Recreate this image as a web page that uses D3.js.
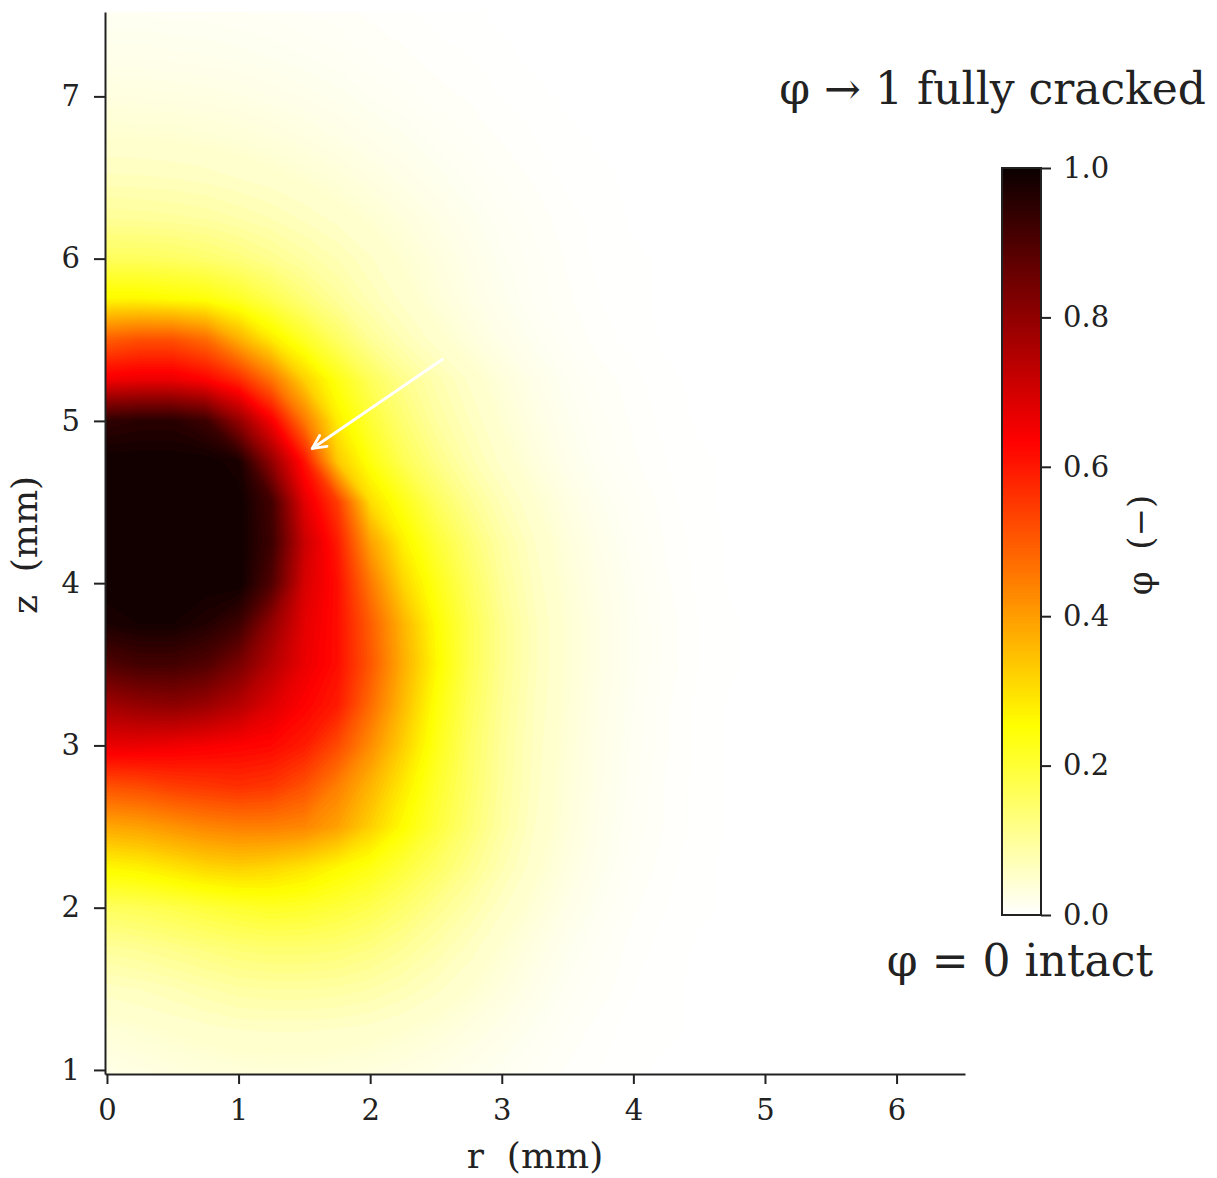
<!DOCTYPE html>
<html>
<head>
<meta charset="utf-8">
<script src="https://cdn.jsdelivr.net/npm/d3@7"></script>
<style>
  body { margin: 0; background: #fff; }
  text { font-family: "DejaVu Serif", serif; fill: #222; white-space: pre; }
</style>
</head>
<body>
<div id="chart"></div>
<script>
// grid positions (mm) of the phi samples
var rGrid = [0, 0.25, 0.5, 0.75, 1, 1.25, 1.5, 1.75, 2, 2.25, 2.5, 2.75, 3, 3.25, 3.5, 3.75, 4, 4.25, 4.5, 4.75, 5];
var zGrid = [1, 1.25, 1.5, 1.75, 2, 2.25, 2.5, 2.75, 3, 3.25, 3.5, 3.75, 4, 4.25, 4.5, 4.75,
             5, 5.25, 5.5, 5.75, 6, 6.25, 6.5, 6.75, 7, 7.25, 7.5, 7.75];

// phase field phi, one row per z (bottom to top), one value per r
var phi = [
  [.025,.03,.034,.037,.039,.04,.04,.038,.035,.031,.026,.02,.015,.01,.006,.004,.002,.001,0,0,0],
  [.04,.045,.05,.055,.06,.061,.061,.059,.055,.048,.04,.031,.023,.015,.009,.005,.003,.002,.001,0,0],
  [.065,.07,.078,.088,.097,.1,.1,.097,.09,.078,.063,.048,.034,.022,.013,.008,.004,.002,.001,0,0],
  [.105,.112,.122,.133,.143,.148,.148,.143,.13,.11,.088,.066,.045,.029,.017,.01,.005,.003,.001,0,0],
  [.165,.172,.183,.198,.21,.22,.215,.2,.18,.15,.118,.09,.062,.04,.024,.014,.007,.004,.002,.001,0],
  [.27,.28,.3,.32,.33,.32,.3,.27,.24,.2,.16,.12,.082,.052,.031,.018,.009,.005,.002,.001,0],
  [.39,.4,.42,.44,.45,.45,.44,.4,.33,.26,.2,.145,.097,.06,.036,.02,.011,.006,.003,.001,0],
  [.52,.53,.55,.56,.57,.56,.52,.45,.37,.29,.215,.155,.102,.064,.038,.022,.012,.006,.003,.001,0],
  [.67,.67,.66,.65,.64,.63,.6,.53,.43,.33,.235,.16,.105,.066,.04,.023,.013,.007,.003,.001,0],
  [.78,.8,.81,.79,.75,.69,.64,.6,.48,.36,.25,.17,.11,.069,.042,.024,.014,.007,.003,.001,0],
  [.9,.92,.92,.9,.84,.75,.67,.62,.51,.38,.27,.18,.115,.072,.044,.026,.015,.008,.004,.002,0],
  [.98,.99,.99,.97,.93,.8,.68,.62,.5,.37,.26,.18,.115,.072,.044,.026,.015,.008,.004,.002,0],
  [1,1,1,1,1,.9,.7,.62,.46,.32,.235,.165,.105,.066,.04,.024,.014,.007,.003,.001,0],
  [1,1,1,1,1,.93,.72,.6,.4,.28,.205,.145,.095,.06,.036,.021,.012,.006,.003,.001,0],
  [1,1,1,1,1,.92,.68,.55,.31,.235,.165,.115,.076,.048,.029,.017,.01,.005,.002,.001,0],
  [1,1,1,1,.98,.8,.61,.34,.245,.175,.125,.085,.056,.035,.021,.012,.007,.004,.002,.001,0],
  [.95,.96,.96,.93,.8,.65,.46,.285,.205,.145,.1,.07,.045,.028,.017,.01,.006,.003,.001,0,0],
  [.66,.67,.67,.64,.58,.47,.33,.24,.17,.12,.085,.058,.037,.023,.014,.008,.005,.002,.001,0,0],
  [.5,.52,.52,.48,.38,.29,.22,.16,.11,.078,.054,.037,.024,.015,.009,.005,.003,.001,0,0,0],
  [.27,.27,.26,.25,.22,.18,.14,.105,.077,.056,.039,.027,.018,.011,.007,.004,.002,.001,0,0,0],
  [.165,.165,.16,.15,.135,.116,.096,.079,.061,.046,.033,.023,.015,.01,.006,.003,.002,.001,0,0,0],
  [.108,.106,.103,.098,.089,.079,.067,.056,.045,.035,.026,.018,.012,.008,.005,.003,.001,0,0,0,0],
  [.072,.071,.069,.065,.059,.053,.046,.039,.031,.024,.018,.013,.009,.006,.003,.002,.001,0,0,0,0],
  [.048,.047,.046,.043,.04,.036,.031,.026,.021,.017,.012,.009,.006,.004,.002,.001,0,0,0,0,0],
  [.032,.031,.03,.029,.027,.024,.021,.018,.014,.011,.008,.006,.004,.002,.001,0,0,0,0,0,0],
  [.021,.021,.02,.019,.018,.016,.014,.012,.009,.007,.005,.004,.002,.001,0,0,0,0,0,0,0],
  [.014,.014,.013,.013,.012,.011,.009,.008,.006,.005,.003,.002,.001,0,0,0,0,0,0,0,0],
  [.009,.009,.009,.008,.008,.007,.006,.005,.004,.003,.002,.001,0,0,0,0,0,0,0,0,0]
];

var rTicks = [0, 1, 2, 3, 4, 5, 6];
var zTicks = [1, 2, 3, 4, 5, 6, 7];
var barTicks = [0, 0.2, 0.4, 0.6, 0.8, 1.0];
var arrowFrom = [2.55, 5.38];   // (r, z) of the arrow tail
var arrowTo = [1.56, 4.83];     // (r, z) of the arrow head
var noteTop = "φ → 1 fully cracked";
var noteBottom = "φ = 0 intact";

var W = 1217, H = 1178;

var svg = d3.select("#chart")
  .append("svg")
    .attr("width", W)
    .attr("height", H);

// axes scales
var x = d3.scaleLinear().domain([-0.015, 6.52]).range([105, 965]);
var y = d3.scaleLinear().domain([0.975, 7.52]).range([1074, 12]);

// matplotlib "hot_r"
var color = d3.scaleLinear()
  .domain([0, 0.254, 0.635, 1])
  .range(["#ffffff", "#ffff00", "#ff0000", "#0b0000"])
  .clamp(true);

svg.append("clipPath").attr("id", "plotClip")
  .append("rect")
    .attr("x", x.range()[0]).attr("y", y.range()[1])
    .attr("width", x.range()[1] - x.range()[0])
    .attr("height", y.range()[0] - y.range()[1]);

// contour bands of phi (finer steps near zero so the fade into white is soft)
var nx = rGrid.length, ny = zGrid.length;
var values = [].concat.apply([], phi);
var gx = d3.scaleLinear().domain([0.5, nx - 0.5]).range([rGrid[0], rGrid[nx - 1]]);
var gz = d3.scaleLinear().domain([0.5, ny - 0.5]).range([zGrid[0], zGrid[ny - 1]]);
var thresholds = d3.range(0.0015, 0.05, 0.0025).concat(d3.range(0.05, 1, 0.01));

var bands = d3.contours()
  .size([nx, ny])
  .thresholds(thresholds)
  (values);

var toPixels = d3.geoTransform({
  point: function(px, py) { this.stream.point(x(gx(px)), y(gz(py))); }
});

svg.append("g")
  .attr("clip-path", "url(#plotClip)")
  .selectAll("path")
  .data(bands)
  .enter().append("path")
    .attr("d", d3.geoPath(toPixels))
    .attr("fill", function(d) { return color(d.value); })
    .attr("stroke", function(d) { return color(d.value); })
    .attr("stroke-width", 0.6);

// arrow
var ax0 = x(arrowFrom[0]), ay0 = y(arrowFrom[1]);
var ax1 = x(arrowTo[0]), ay1 = y(arrowTo[1]);
var ang = Math.atan2(ay0 - ay1, ax0 - ax1);
var wing = 15, spread = 26 * Math.PI / 180;
var arrow = svg.append("g")
  .attr("stroke", "#ffffff")
  .attr("stroke-width", 2.8)
  .attr("stroke-linecap", "round")
  .attr("fill", "none");
arrow.append("line")
  .attr("x1", ax0).attr("y1", ay0).attr("x2", ax1).attr("y2", ay1);
arrow.append("path")
  .attr("d", "M" + (ax1 + wing * Math.cos(ang - spread)) + "," + (ay1 + wing * Math.sin(ang - spread)) +
             "L" + ax1 + "," + ay1 +
             "L" + (ax1 + wing * Math.cos(ang + spread)) + "," + (ay1 + wing * Math.sin(ang + spread)))
  .attr("stroke-linejoin", "round");

// Add X axis
var xAxis = svg.append("g")
  .attr("transform", "translate(0,1074)")
  .call(d3.axisBottom(x).tickValues(rTicks).tickFormat(d3.format("d"))
    .tickSize(10).tickSizeOuter(0).tickPadding(15));

// Add Y axis
var yAxis = svg.append("g")
  .attr("transform", "translate(105,0)")
  .call(d3.axisLeft(y).tickValues(zTicks).tickFormat(d3.format("d"))
    .tickSize(11).tickSizeOuter(0).tickPadding(14));

[xAxis, yAxis].forEach(function(g) {
  g.selectAll("path, line").attr("stroke", "#222").attr("stroke-width", 2);
  g.selectAll("text")
    .attr("font-family", "DejaVu Serif, serif")
    .attr("font-size", 29)
    .attr("fill", "#222");
});

svg.append("text")
  .attr("x", 535).attr("y", 1168)
  .attr("text-anchor", "middle")
  .attr("font-size", 36)
  .text("r  (mm)");

svg.append("text")
  .attr("transform", "translate(37,545) rotate(-90)")
  .attr("text-anchor", "middle")
  .attr("font-size", 36)
  .text("z  (mm)");

// colorbar
var cb = { x: 1002, w: 39 };
var c = d3.scaleLinear().domain([0, 1]).range([915, 168]);
var steps = d3.range(0, 1, 0.004);
svg.append("g")
  .selectAll("rect")
  .data(steps)
  .enter().append("rect")
    .attr("x", cb.x)
    .attr("width", cb.w)
    .attr("y", function(d) { return c(d + 0.004) - 0.5; })
    .attr("height", c(0) - c(0.004) + 1)
    .attr("fill", function(d) { return color(d + 0.002); });

svg.append("rect")
  .attr("x", cb.x).attr("y", c(1))
  .attr("width", cb.w).attr("height", c(0) - c(1))
  .attr("fill", "none").attr("stroke", "#222").attr("stroke-width", 2);

var cAxis = svg.append("g")
  .attr("transform", "translate(" + (cb.x + cb.w) + ",0)")
  .call(d3.axisRight(c).tickValues(barTicks).tickFormat(d3.format(".1f"))
    .tickSize(10).tickSizeOuter(0).tickPadding(12));
cAxis.select(".domain").remove();
cAxis.selectAll("line").attr("stroke", "#222").attr("stroke-width", 2);
cAxis.selectAll("text")
  .attr("font-family", "DejaVu Serif, serif")
  .attr("font-size", 29)
  .attr("fill", "#222");

svg.append("text")
  .attr("transform", "translate(1152,545) rotate(-90)")
  .attr("text-anchor", "middle")
  .attr("font-size", 34)
  .text("φ  (−)");

// annotations
svg.append("text")
  .attr("x", 1206).attr("y", 104)
  .attr("text-anchor", "end")
  .attr("font-size", 44)
  .text(noteTop);

svg.append("text")
  .attr("x", 1020).attr("y", 976)
  .attr("text-anchor", "middle")
  .attr("font-size", 44)
  .text(noteBottom);
</script>
</body>
</html>
